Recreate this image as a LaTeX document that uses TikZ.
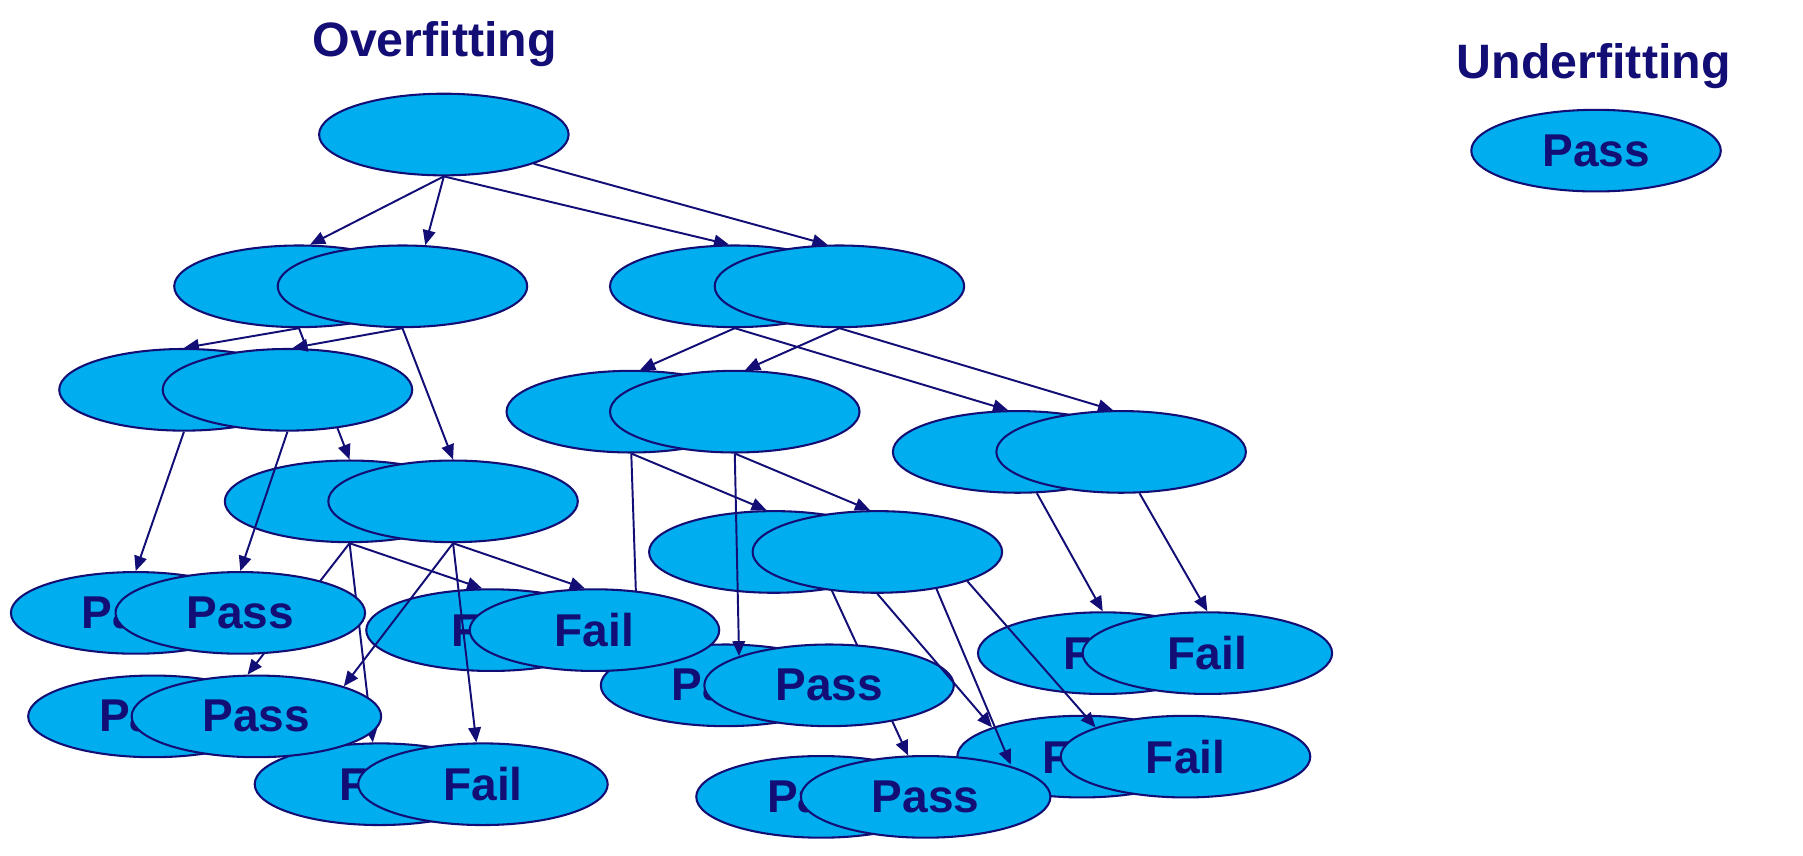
\documentclass[tikz,border=0pt]{standalone}
\usepackage{fontspec}
\setmainfont{Liberation Sans}
\usetikzlibrary{shapes.geometric,arrows.meta}
\definecolor{navy}{RGB}{18,14,118}
\definecolor{skyfill}{RGB}{0,174,239}
\pgfdeclarelayer{lleft}
\pgfdeclarelayer{nleft}
\pgfdeclarelayer{nright}
\pgfdeclarelayer{lright}
\pgfsetlayers{lleft,nleft,nright,lright,main}
\begin{document}
\begin{tikzpicture}[x=0.5pt,y=-0.5pt,
  bubble/.style={ellipse,draw=navy,fill=skyfill,line width=0.9pt,minimum width=108.5pt,minimum height=35.5pt,inner sep=0pt,text=navy,font=\fontsize{20}{24}\selectfont\bfseries},
  conn/.style={draw=navy,line width=0.85pt,-{Triangle[length=6.5pt,width=5.5pt]}},
  headline/.style={text=navy,font=\fontsize{21}{25}\selectfont\bfseries,anchor=base,inner sep=0pt}]
\useasboundingbox (0,0) rectangle (1568,744);

\node[headline] (over) at (378,49.3) {Overfitting};
\node[headline] (under) at (1386,68) {Underfitting};

\begin{pgfonlayer}{nleft}
\node[bubble] (root) at (386,117) {};
\node[bubble] (Al) at (260,249) {};
\node[bubble] (Bl) at (639,249) {};
\node[bubble] (Cl) at (160,339) {};
\node[bubble] (Dl) at (549,358) {};
\node[bubble] (El) at (885,393) {};
\node[bubble] (Fl) at (304,436) {};
\node[bubble] (Gl) at (673,480) {};
\node[bubble] (Hl) at (118,533) {Pass};
\node[bubble] (Il) at (427,548) {Fail};
\node[bubble] (Jl) at (133,623) {Pass};
\node[bubble] (Kl) at (330,682) {Fail};
\node[bubble] (Ll) at (631,596) {Pass};
\node[bubble] (Ml) at (959,568) {Fail};
\node[bubble] (Nl) at (941,658) {Fail};
\node[bubble] (Ol) at (714,693) {Pass};
\end{pgfonlayer}

\begin{pgfonlayer}{nright}
\node[bubble] (Ar) at (350,249) {};
\node[bubble] (Br) at (730,249) {};
\node[bubble] (Cr) at (250,339) {};
\node[bubble] (Dr) at (639,358) {};
\node[bubble] (Er) at (975,393) {};
\node[bubble] (Fr) at (394,436) {};
\node[bubble] (Gr) at (763,480) {};
\node[bubble] (Hr) at (209,533) {Pass};
\node[bubble] (Ir) at (517,548) {Fail};
\node[bubble] (Jr) at (223,623) {Pass};
\node[bubble] (Kr) at (420,682) {Fail};
\node[bubble] (Lr) at (721,596) {Pass};
\node[bubble] (Mr) at (1050,568) {Fail};
\node[bubble] (Nr) at (1031,658) {Fail};
\node[bubble] (Or) at (805,693) {Pass};
\node[bubble] (underpass) at (1388,131) {Pass};
\end{pgfonlayer}

\coordinate (hiddenend) at (554.5,560);
\coordinate (insideN) at (879,665);

\begin{pgfonlayer}{lleft}
\draw[conn] (root.south) -- (Al.75);
\draw[conn] (root.south) -- (Ar.61);
\draw[conn] (root.south) -- (Bl.98);
\draw[conn] (root.-18) -- (Br.106);
\draw[conn] (Al.south) -- (Cl.north);
\draw[conn] (Al.south) -- (Fl.north);
\draw[conn] (Cl.south) -- (Hl.north);
\draw[conn] (Bl.south) -- (Dl.78);
\draw[conn] (Bl.south) -- (El.103);
\draw[conn] (Dl.south) -- (hiddenend);
\draw[conn] (Dl.south) -- (Gl.100);
\draw[conn] (El.-65) -- (Ml.north);
\draw[conn] (Fl.south) -- (Il.102);
\draw[conn] (Fl.south) -- (Jr.102);
\draw[conn] (Fl.south) -- (Kl.99);
\draw[conn] (Gl.-33) -- (Or.113);
\end{pgfonlayer}

\begin{pgfonlayer}{lright}
\draw[conn] (Ar.south) -- (Cr.83);
\draw[conn] (Ar.south) -- (Fr.north);
\draw[conn] (Cr.south) -- (Hr.north);
\draw[conn] (Br.south) -- (Dr.76);
\draw[conn] (Br.south) -- (Er.101);
\draw[conn] (Dr.south) -- (Lr.162);
\draw[conn] (Dr.south) -- (Gr.100);
\draw[conn] (Er.-66) -- (Mr.north);
\draw[conn] (Fr.south) -- (Ir.103);
\draw[conn] (Fr.south) -- (Jr.19);
\draw[conn] (Fr.south) -- (Kr.99);
\draw[conn] (Gr.south) -- (Nl.162);
\draw[conn] (Gr.-32) -- (insideN);
\draw[conn] (Gr.-18) -- (Nr.162);
\end{pgfonlayer}
\end{tikzpicture}
\end{document}
